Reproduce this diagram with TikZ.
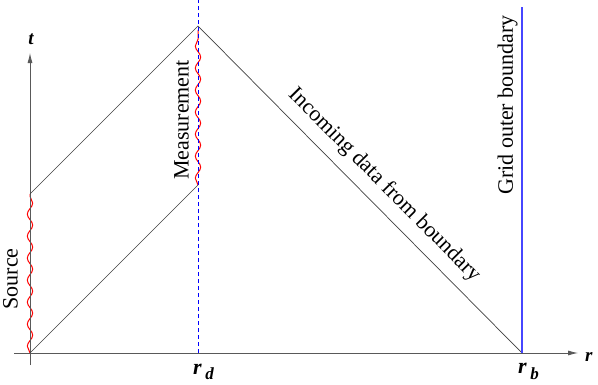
\documentclass[tikz,border=0pt]{standalone}
\usepackage{fontspec}
\setmainfont{Liberation Serif}
\usetikzlibrary{arrows.meta,positioning,decorations.pathmorphing}

\begin{document}
\begin{tikzpicture}[
    x=1pt, y=1pt,
    axis/.style={-{Latex[length=10pt,width=5pt]}, draw=black!65, line width=0.8pt},
    ray/.style={draw=black!75, line width=0.7pt},
    wave/.style={draw=red, line width=1pt, decorate,
                 decoration={snake, amplitude=2.7pt, segment length=22pt}},
    lbl/.style={font=\fontsize{22}{24}\selectfont, inner sep=1pt},
    axlbl/.style={font=\fontsize{19}{20}\selectfont\bfseries\itshape, inner sep=0pt},
    radlbl/.style={font=\fontsize{22}{24}\selectfont\bfseries\itshape, inner sep=0pt, anchor=base west}
]
    \useasboundingbox (0,0) rectangle (598,384);

    \coordinate (o) at (30,31);
    \coordinate (rdaxis) at (198,31);
    \coordinate (rbaxis) at (522,31);
    \coordinate (srctop) at (30,190);
    \coordinate (measlow) at (198,199);
    \coordinate (meashigh) at (198,354);
    \coordinate (apex) at (198,358);
    \coordinate (rdtop) at (198,384);
    \coordinate (rbtop) at (522,377);
    \coordinate (xstart) at (14,31);
    \coordinate (xend) at (578,31);
    \coordinate (ystart) at (30,19);
    \coordinate (yend) at (30,331);

    \draw[wave] (o) -- (srctop);
    \draw[wave] (measlow) -- (meashigh);

    \draw[axis] (xstart) -- (xend);
    \draw[axis] (ystart) -- (yend);

    \draw[ray] (o) -- (measlow);
    \draw[ray] (srctop) -- (apex) -- (rbaxis);

    \draw[blue, dashed, line width=1pt, dash pattern=on 4pt off 3pt] (rdaxis) -- (rdtop);
    \draw[draw={rgb,255:red,70;green,70;blue,255}, line width=1.8pt] (rbaxis) -- (rbtop);

    \node[axlbl, anchor=base] (tlabel) at (31,339) {t};
    \node[axlbl, anchor=base west] (rlabel) at (585,23) {r};
    \node[radlbl] (rdlabel) at (193,10) {r\,\raisebox{-5.5pt}{\fontsize{17}{18}\selectfont d}};
    \node[radlbl] (rblabel) at (518,11) {r\,\raisebox{-6.5pt}{\fontsize{17}{18}\selectfont b}};

    \node[lbl, rotate=90] (source) at (10.5,105) {Source};
    \node[lbl, rotate=90] (meas) at (181.5,264) {Measurement};
    \node[lbl, rotate=90] (grid) at (507.5,279) {Grid outer boundary};
    \path (apex) -- (rbaxis) node[lbl, pos=0.53, sloped, above=9pt] (incoming) {Incoming data from boundary};
\end{tikzpicture}
\end{document}
